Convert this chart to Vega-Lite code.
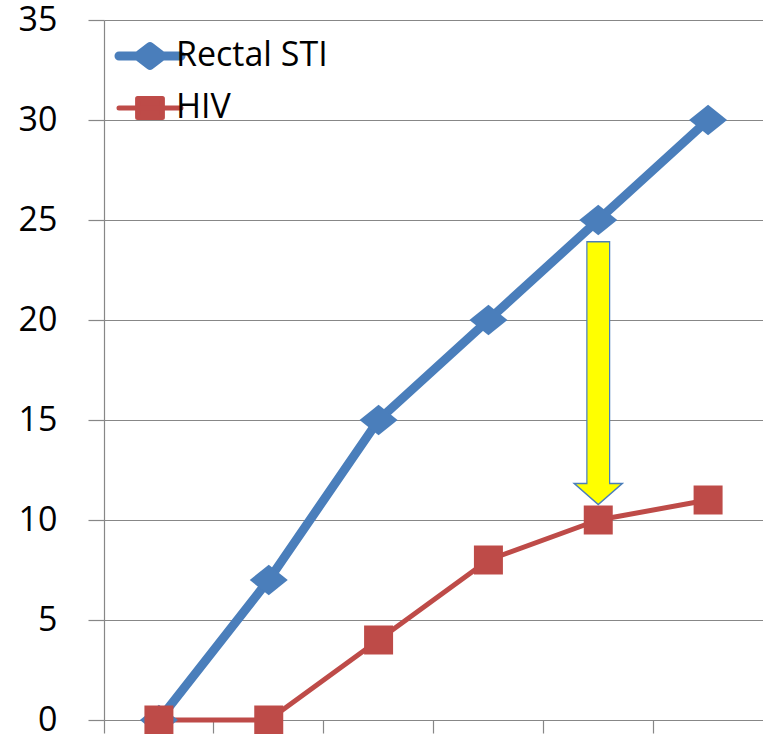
{
  "$schema": "https://vega.github.io/schema/vega-lite/v6.json",
  "width": 659,
  "height": 700,
  "autosize": {"type": "none"},
  "padding": {"left": 104, "top": 20, "right": 0, "bottom": 14},
  "background": "white",
  "config": {
    "view": {"stroke": null},
    "font": "Open Sans",
    "axisX": {"labels": false, "ticks": true, "tickSize": 13, "tickColor": "#878787", "tickWidth": 1.2, "domainColor": "#878787", "domainWidth": 1.2, "grid": false, "bandPosition": 0},
    "axisY": {"grid": true, "gridColor": "#878787", "gridWidth": 1.2, "tickSize": 16, "tickColor": "#878787", "tickWidth": 1.2, "domainColor": "#878787", "domainWidth": 1.2, "labelFontSize": 34, "labelFont": "Open Sans", "labelColor": "#000000", "labelPadding": 31, "labelFlush": false, "labelOverlap": false}
  },
  "datasets": {
    "series": [
      {"period": "1", "series": "Rectal STI", "value": 0},
      {"period": "2", "series": "Rectal STI", "value": 7},
      {"period": "3", "series": "Rectal STI", "value": 15},
      {"period": "4", "series": "Rectal STI", "value": 20},
      {"period": "5", "series": "Rectal STI", "value": 25},
      {"period": "6", "series": "Rectal STI", "value": 30},
      {"period": "1", "series": "HIV", "value": 0},
      {"period": "2", "series": "HIV", "value": 0},
      {"period": "3", "series": "HIV", "value": 4},
      {"period": "4", "series": "HIV", "value": 8},
      {"period": "5", "series": "HIV", "value": 10},
      {"period": "6", "series": "HIV", "value": 11}
    ],
    "arrow": [
      {"period": "5", "top": 23.95, "bottom": 11.83, "top2": 23.88, "bottom2": 11.75, "head": 11.3}
    ]
  },
  "layer": [
    {
      "data": {"name": "series"},
      "mark": {"type": "line", "strokeCap": "round", "strokeJoin": "round"},
      "encoding": {
        "x": {
          "field": "period", "type": "ordinal",
          "scale": {"type": "band", "paddingInner": 0, "paddingOuter": 0, "domain": ["1", "2", "3", "4", "5", "6"]},
          "axis": {"title": null}
        },
        "y": {
          "field": "value", "type": "quantitative",
          "scale": {"domain": [0, 35], "nice": false},
          "axis": {"title": null, "values": [0, 5, 10, 15, 20, 25, 30, 35]}
        },
        "color": {
          "field": "series", "type": "nominal",
          "scale": {"domain": ["Rectal STI", "HIV"], "range": ["#4A7EBB", "#BE4B48"]},
          "legend": {
            "orient": "none", "legendX": 26, "legendY": 16, "title": null,
            "labelFontSize": 34, "labelFont": "Open Sans", "labelColor": "#000000",
            "symbolSize": 961, "rowPadding": 17, "labelOffset": 6, "padding": 0,
            "encode": {
              "symbols": {
                "update": {
                  "shape": {"signal": "datum.value === 'Rectal STI' ? 'M-2,0L2,0M-0.8,0L0,-0.6L0.8,0L0,0.6Z' : 'M-2,0L2,0M-0.8,-0.61L0.8,-0.61L0.8,0.61L-0.8,0.61Z'"},
                  "strokeWidth": {"signal": "datum.value === 'Rectal STI' ? 9 : 5"},
                  "fill": {"scale": "color", "field": "value"},
                  "stroke": {"scale": "color", "field": "value"},
                  "fillOpacity": {"value": 1},
                  "strokeOpacity": {"value": 1},
                  "opacity": {"value": 1},
                  "strokeJoin": {"value": "round"},
                  "strokeCap": {"value": "round"}
                }
              }
            }
          }
        },
        "strokeWidth": {
          "field": "series", "type": "ordinal",
          "scale": {"domain": ["Rectal STI", "HIV"], "range": [9, 5]},
          "legend": null
        }
      }
    },
    {
      "data": {"name": "series"},
      "transform": [{"filter": "datum.series === 'Rectal STI'"}],
      "mark": {"type": "point", "shape": "M-1,0L0,-0.8L1,0L0,0.8Z", "size": 1444, "filled": true, "opacity": 1, "color": "#4A7EBB"},
      "encoding": {
        "x": {"field": "period", "type": "ordinal", "axis": {"title": null}},
        "y": {"field": "value", "type": "quantitative", "axis": {"title": null}}
      }
    },
    {
      "data": {"name": "series"},
      "transform": [{"filter": "datum.series === 'HIV'"}],
      "mark": {"type": "point", "shape": "square", "size": 841, "filled": true, "opacity": 1, "color": "#BE4B48"},
      "encoding": {
        "x": {"field": "period", "type": "ordinal", "axis": {"title": null}},
        "y": {"field": "value", "type": "quantitative", "axis": {"title": null}}
      }
    },
    {
      "data": {"name": "arrow"},
      "mark": {"type": "point", "shape": "M-1,-0.44L1,-0.44L0,0.44Z", "size": 2304, "filled": true, "fill": "#FFFF00", "stroke": "#4A7EBB", "strokeWidth": 1.5, "opacity": 1, "fillOpacity": 1},
      "encoding": {
        "x": {"field": "period", "type": "ordinal", "axis": {"title": null}},
        "y": {"field": "head", "type": "quantitative", "axis": {"title": null}}
      }
    },
    {
      "data": {"name": "arrow"},
      "mark": {"type": "rule", "color": "#4A7EBB", "strokeWidth": 24, "strokeCap": "butt"},
      "encoding": {
        "x": {"field": "period", "type": "ordinal", "axis": {"title": null}},
        "y": {"field": "top", "type": "quantitative", "axis": {"title": null}},
        "y2": {"field": "bottom"}
      }
    },
    {
      "data": {"name": "arrow"},
      "mark": {"type": "rule", "color": "#FFFF00", "strokeWidth": 21.5, "strokeCap": "butt"},
      "encoding": {
        "x": {"field": "period", "type": "ordinal", "axis": {"title": null}},
        "y": {"field": "top2", "type": "quantitative", "axis": {"title": null}},
        "y2": {"field": "bottom2"}
      }
    }
  ]
}
